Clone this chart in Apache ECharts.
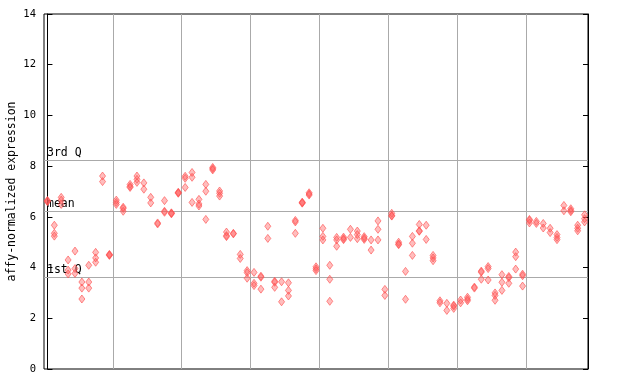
<!DOCTYPE html>
<html>
<head>
<meta charset="utf-8">
<script src="https://cdn.jsdelivr.net/npm/echarts@6/dist/echarts.min.js"></script>
<style>html,body{margin:0;padding:0;background:#fff}#c{width:640px;height:384px}</style>
</head>
<body>
<div id="c"></div>
<script>
// replicate values per sample column (79 columns)
const expression = [
  [6.65, 6.6, 6.62], [5.67, 5.35, 5.24], [6.77, 6.66, 6.49], [4.3, 3.9, 3.75], [4.65, 3.96, 3.77],
  [3.43, 3.19, 2.76], [4.09, 3.43, 3.19], [4.6, 4.38, 4.21], [7.61, 7.39], [4.52, 4.48, 4.5],
  [6.66, 6.57, 6.49], [6.38, 6.33, 6.22], [7.28, 7.2, 7.16], [7.61, 7.48, 7.36], [7.34, 7.09],
  [6.77, 6.55], [5.76, 5.72], [6.64, 6.22, 6.18], [6.16, 6.12, 6.14], [6.97, 6.93, 6.95],
  [7.6, 7.52, 7.16], [7.75, 7.56, 6.57], [6.69, 6.51, 6.43], [7.28, 7.01, 5.9], [7.95, 7.9, 7.85],
  [7.02, 6.93, 6.82], [5.4, 5.26, 5.22], [5.35, 5.33], [4.52, 4.36], [3.88, 3.8, 3.58],
  [3.81, 3.38, 3.29], [3.66, 3.62, 3.15], [5.63, 5.15], [3.46, 3.42, 3.22], [3.44, 2.65],
  [3.4, 3.1, 2.88], [5.86, 5.8, 5.35], [6.58, 6.54, 6.56], [6.95, 6.86, 6.9], [4.03, 3.95, 3.88],
  [5.55, 5.23, 5.09], [4.09, 3.54, 2.67], [5.19, 5.09, 4.84], [5.2, 5.14, 5.1], [5.51, 5.19],
  [5.44, 5.3, 5.14], [5.22, 5.11, 5.16], [5.09, 4.69], [5.84, 5.51, 5.09], [3.14, 2.9],
  [6.14, 6.05, 6.03], [5.0, 4.93, 4.9], [3.85, 2.75], [5.23, 4.96, 4.48], [5.7, 5.45, 5.43],
  [5.67, 5.11], [4.48, 4.38, 4.27], [2.69, 2.61], [2.59, 2.31], [2.52, 2.48, 2.39],
  [2.72, 2.61], [2.83, 2.69, 2.75], [3.23, 3.19], [3.86, 3.82, 3.54], [4.04, 3.96, 3.51],
  [3.0, 2.9, 2.71], [3.72, 3.42, 3.1], [3.65, 3.6, 3.38], [4.61, 4.43, 3.94], [3.74, 3.68, 3.27],
  [5.9, 5.86, 5.76], [5.82, 5.74], [5.74, 5.56], [5.55, 5.38], [5.3, 5.19, 5.1],
  [6.45, 6.24], [6.32, 6.25, 6.2], [5.67, 5.55, 5.45], [6.08, 5.93, 5.8]
];
const groupSeparators = [9.5, 19.5, 29.5, 39.5, 49.5, 59.5, 69.5];
const quartileLines = [
  { name: '3rd Q', value: 8.23 },
  { name: 'mean', value: 6.23 },
  { name: '1st Q', value: 3.63 }
];
const yTicks = [0, 2, 4, 6, 8, 10, 12, 14];
const yLabel = 'affy-normalized expression';

const points = [];
expression.forEach((vals, i) => vals.forEach(v => points.push([i, v])));

const mono = 'DejaVu Sans Mono';
const chart = echarts.init(document.getElementById('c'), null, { renderer: 'canvas' });
chart.setOption({
  animation: false,
  backgroundColor: '#fff',
  grid: {
    left: 44, right: 52, top: 14, bottom: 15, containLabel: false, outerBoundsMode: 'none',
    show: true, borderColor: '#000', borderWidth: 1, backgroundColor: 'transparent'
  },
  xAxis: {
    type: 'value', min: -0.5, max: expression.length - 0.5,
    axisLine: { show: false }, axisTick: { show: false }, axisLabel: { show: false }, splitLine: { show: false }
  },
  yAxis: [{
    type: 'value', min: yTicks[0], max: yTicks[yTicks.length - 1], interval: 2,
    name: yLabel, nameLocation: 'middle', nameGap: 26, nameRotate: 90, nameMoveOverlap: false,
    nameTextStyle: { fontFamily: mono, fontSize: 11.5, color: '#000' },
    axisLine: { show: true, lineStyle: { color: '#000' } },
    axisTick: { show: true, inside: true, length: 5, lineStyle: { color: '#000' } },
    axisLabel: { fontFamily: mono, fontSize: 10.5, color: '#000', margin: 8 },
    splitLine: { show: false }
  }, {
    type: 'value', position: 'right', min: yTicks[0], max: yTicks[yTicks.length - 1], interval: 2,
    axisLine: { show: true, lineStyle: { color: '#000' } },
    axisTick: { show: true, inside: true, length: 5, lineStyle: { color: '#000' } },
    axisLabel: { show: false }, splitLine: { show: false }
  }],
  series: [{
    type: 'scatter',
    data: points,
    symbol: 'diamond',
    symbolSize: [6, 8],
    itemStyle: { color: 'rgba(255,90,90,0.5)', borderColor: '#ff4f4f', borderWidth: 0.8 },
    z: 5,
    markLine: {
      silent: true, symbol: 'none', animation: false,
      label: { show: false },
      lineStyle: { color: '#aaaaaa', width: 1, type: 'solid' },
      data: groupSeparators.map(x => ({ xAxis: x }))
        .concat(quartileLines.map(q => ({
          yAxis: q.value,
          label: {
            show: true, position: 'insideStartTop', formatter: q.name,
            fontFamily: mono, fontSize: 11.5, color: '#000', distance: [3, 1]
          }
        })))
    }
  }]
});
</script>
</body>
</html>
